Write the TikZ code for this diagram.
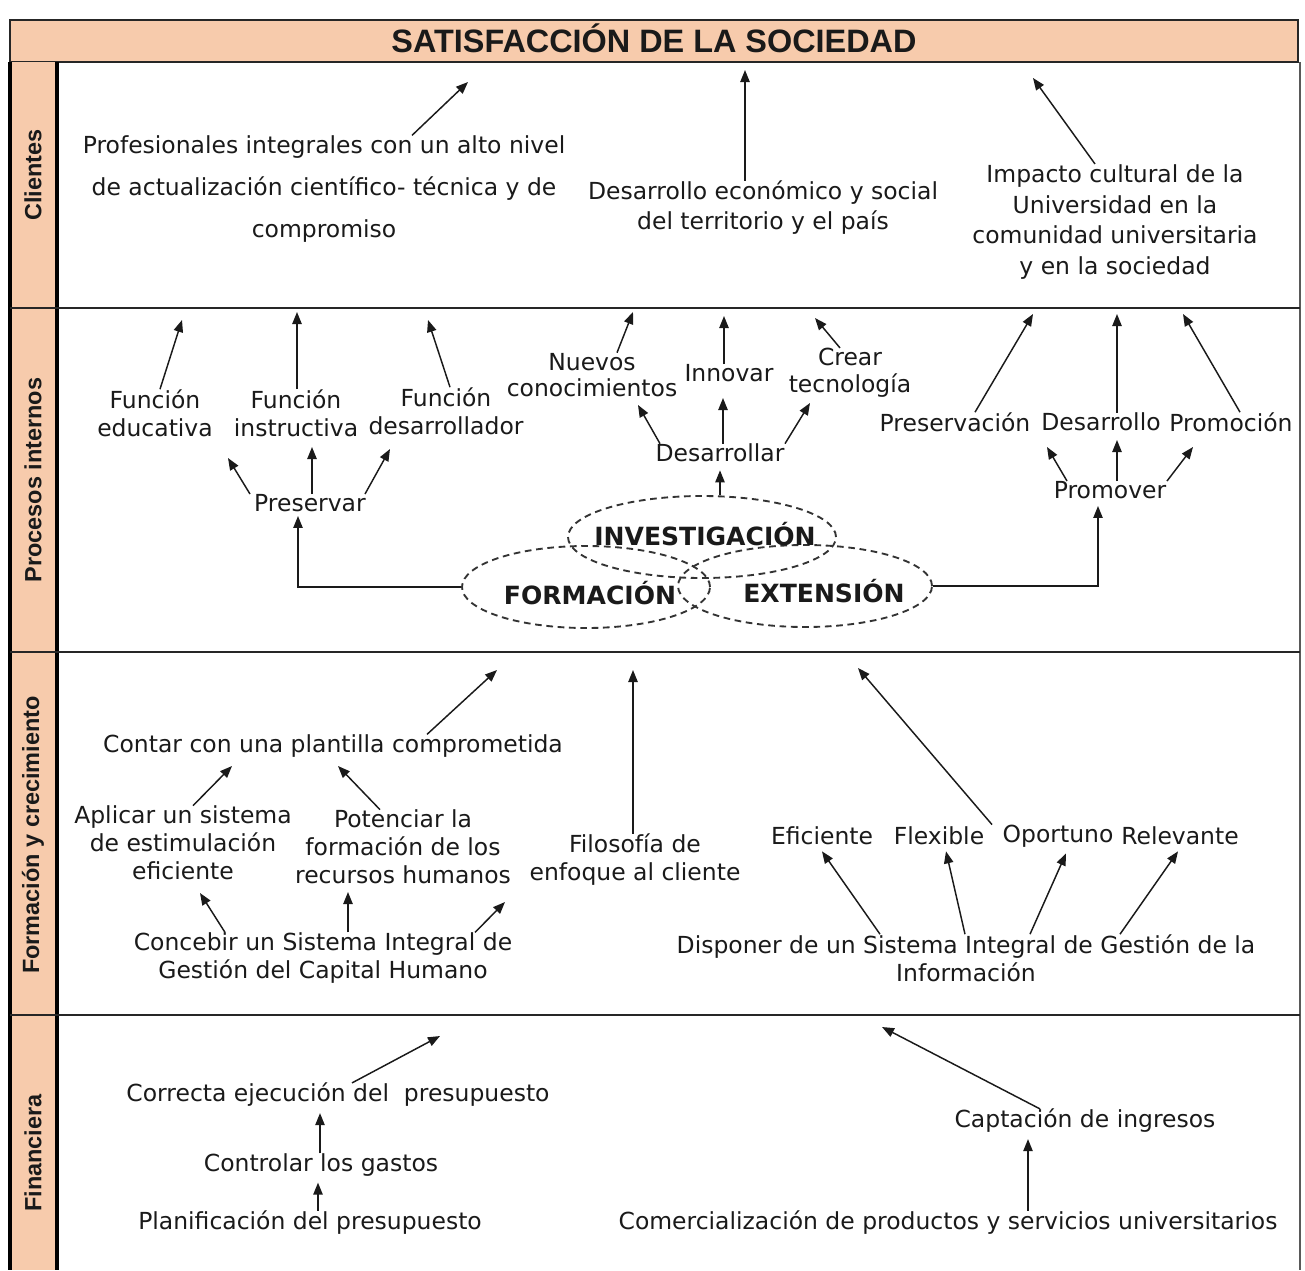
\documentclass[tikz,border=0pt]{standalone}
\usepackage{fontspec}
\setmainfont{DejaVu Sans}
\newfontfamily\headfont{Liberation Sans}
\usetikzlibrary{arrows.meta,calc,shapes.geometric}
\definecolor{peach}{HTML}{F7CBAC}
\definecolor{ink}{HTML}{1A1A1A}
\tikzset{
  tx/.style={font=\fontsize{17.6}{21}\selectfont, align=center, inner sep=0pt, text=ink},
  arr/.style={draw=ink, line width=1.1pt, -{Triangle[length=9pt,width=7pt]}},
  link/.style={draw=ink, line width=1.1pt, -{Triangle[length=9pt,width=7pt]}},
  area/.style={ellipse, draw=black!80, dashed, dash pattern=on 5pt off 3.5pt, line width=1.4pt,
    minimum height=61.5pt, inner sep=0pt},
  areatext/.style={inner sep=0pt, font=\bfseries\fontsize{18.8}{21}\selectfont, text=ink},
  band/.style={rotate=90, font=\headfont\bfseries\fontsize{17.6}{20}\selectfont, text=ink},
  sep/.style={draw=black!85, line width=2pt}
}
\begin{document}
\begin{tikzpicture}[x=0.75pt,y=-0.75pt]
\useasboundingbox (0,0) rectangle (1305,1270);
\fill[white] (0,0) rectangle (1305,1270);

% frame: title bar, side column and perspective bands
\draw[draw=black!85, line width=1.8pt, fill=peach] (10,20) rectangle (1298,62);
\node[font=\headfont\bfseries\fontsize{24.3}{27}\selectfont, text=ink] (title) at (654,38) {SATISFACCIÓN DE LA SOCIEDAD};
\draw[draw=black!65, line width=1.5pt] (1300,62) -- (1300,1270);
\fill[peach] (10,62) rectangle (57,1270);
\draw[black, line width=2.4pt] (10,62) -- (10,1270) (57,62) -- (57,1270);
\draw[sep] (10,308) -- (1300,308);
\draw[sep] (10,652) -- (1300,652);
\draw[sep] (10,1015) -- (1300,1015);

\node[band] (bcli) at (33,175) {Clientes};
\node[band] (bpro) at (33,480) {Procesos internos};
\node[band] (bfor) at (33,835) {Formación y crecimiento};
\node[band] (bfin) at (33,1153) {Financiera};

% Clientes
\node[tx, font=\fontsize{17.6}{31.5}\selectfont] (prof) at (324,189)
  {Profesionales integrales con un alto nivel\\de actualización científico- técnica y de\\compromiso};
\node[tx, font=\fontsize{17.6}{22.5}\selectfont] (desa) at (763,208)
  {Desarrollo económico y social\\del territorio y el país};
\node[tx, font=\fontsize{17.6}{23.2}\selectfont] (impa) at (1115,222)
  {Impacto cultural de la\\Universidad en la\\comunidad universitaria\\y en la sociedad};
\coordinate (cA) at (468,82);
\coordinate (cB) at (745,70);
\coordinate (cC) at (1033,78);
\draw[arr] ($(prof.north)+(88,0)$) -- (cA);
\draw[arr] ($(desa.north)+(-18,0)$) -- (cB);
\draw[arr] ($(impa.north)+(-20,0)$) -- (cC);

% Procesos internos
\node[tx] (feduc) at (155,413) {Función\\educativa};
\node[tx] (finst) at (296,413) {Función\\instructiva};
\node[tx] (fdes) at (446,411) {Función\\desarrollador};
\node[tx] (pres) at (310,503) {Preservar};
\coordinate (pA) at (182,320);
\coordinate (pB) at (297,312);
\coordinate (pC) at (428,320);
\draw[arr] ($(feduc.north)+(5,0)$) -- (pA);
\draw[arr] ($(finst.north)+(1,0)$) -- (pB);
\draw[arr] ($(fdes.north)+(4,0)$) -- (pC);
\draw[arr] ($(pres.north)+(-60,0)$) -- (228,458);
\draw[arr] ($(pres.north)+(2,0)$) -- (312,447);
\draw[arr] ($(pres.north)+(55,0)$) -- (390,449);

\node[tx, font=\fontsize{17.6}{20}\selectfont] (nuev) at (592,375) {Nuevos\\conocimientos};
\node[tx] (innov) at (729,373) {Innovar};
\node[tx, font=\fontsize{17.6}{20.5}\selectfont] (crear) at (850,373) {Crear\\tecnología};
\node[tx] (desar) at (720,453) {Desarrollar};
\draw[arr] ($(nuev.north)+(25,0)$) -- (633,312);
\draw[arr] ($(innov.north)+(-5,0)$) -- (724,316);
\draw[arr] ($(crear.north)+(-10,0)$) -- (815,318);
\draw[arr] ($(desar.north)+(-60,0)$) -- (638,405);
\draw[arr] ($(desar.north)+(3,0)$) -- (723,398);
\draw[arr] ($(desar.north)+(65,0)$) -- (810,403);

\node[tx] (presv) at (955,422) {Preservación};
\node[tx] (desa2) at (1101,422) {Desarrollo};
\node[tx] (promo) at (1231,422) {Promoción};
\node[tx] (promv) at (1110,490) {Promover};
\draw[arr] ($(presv.north)+(20,0)$) -- (1033,314);
\draw[arr] ($(desa2.north)+(16,0)$) -- (1117,314);
\draw[arr] ($(promo.north)+(9,0)$) -- (1183,314);
\draw[arr] ($(promv.north)+(-43,0)$) -- (1047,447);
\draw[arr] ($(promv.north)+(7,0)$) -- (1117,440);
\draw[arr] ($(promv.north)+(57,0)$) -- (1193,447);

% the three overlapping university processes
\node[area, minimum width=201pt] (inv) at (702,537) {};
\node[area, minimum width=186pt] (form) at (586,587) {};
\node[area, minimum width=190.5pt] (ext) at (805,586) {};
\node[areatext] (invt) at (705,534) {INVESTIGACIÓN};
\node[areatext] (formt) at (590,593) {FORMACIÓN};
\node[areatext] (extt) at (824,591) {EXTENSIÓN};
\draw[link] (form.west) -| ($(pres.south)+(-12,4)$);
\draw[link] (ext.east) -| ($(promv.south)+(-12,7)$);
\draw[link] (inv.north -| desar.south) -- ($(desar.south)+(0,8)$);

% Formación y crecimiento
\node[tx] (contar) at (333,746) {Contar con una plantilla comprometida};
\node[tx] (aplic) at (183,843) {Aplicar un sistema\\de estimulación\\eficiente};
\node[tx] (poten) at (403,847) {Potenciar la\\formación de los\\recursos humanos};
\node[tx] (filos) at (635,860) {Filosofía de\\enfoque al cliente};
\node[tx] (conceb) at (323,958) {Concebir un Sistema Integral de\\Gestión del Capital Humano};
\draw[arr] ($(contar.north)+(94,0)$) -- (497,670);
\draw[arr] ($(aplic.north)+(10,0)$) -- (232,766);
\draw[arr] ($(poten.north)+(-23,0)$) -- (338,766);
\draw[arr] ($(filos.north)+(-2,0)$) -- (633,670);
\draw[arr] ($(conceb.north)+(-98,0)$) -- (200,893);
\draw[arr] ($(conceb.north)+(25,0)$) -- (348,892);
\draw[arr] ($(conceb.north)+(152,0)$) -- (505,902);

\node[tx] (efic) at (822,836) {Eficiente};
\node[tx] (flex) at (939,836) {Flexible};
\node[tx] (oport) at (1058,836) {Oportuno};
\node[tx] (relev) at (1180,836) {Relevante};
\node[tx] (dispo) at (966,958) {Disponer de un Sistema Integral de Gestión de la\\Información};
\draw[arr] ($(oport.north)+(-66,0)$) -- (858,668);
\draw[arr] ($(dispo.north)+(-86,0)$) -- ($(efic.south)+(0,6)$);
\draw[arr] ($(dispo.north)+(-1,0)$) -- ($(flex.south)+(7,6)$);
\draw[arr] ($(dispo.north)+(64,0)$) -- ($(oport.south)+(8,6)$);
\draw[arr] ($(dispo.north)+(154,0)$) -- ($(relev.south)+(-2,6)$);

% Financiera
\node[tx] (correc) at (338,1095) {Correcta ejecución del\ \ presupuesto};
\node[tx] (contr) at (321,1165) {Controlar los gastos};
\node[tx] (planif) at (310,1223) {Planificación del presupuesto};
\node[tx] (capt) at (1085,1121) {Captación de ingresos};
\node[tx] (comerc) at (948,1223) {Comercialización de productos y servicios universitarios};
\draw[arr] ($(correc.north)+(14,0)$) -- (440,1036);
\draw[arr] ($(contr.north)+(-1,0)$) -- ($(correc.south)+(-18,6)$);
\draw[arr] ($(planif.north)+(8,0)$) -- ($(contr.south)+(-3,6)$);
\draw[arr] ($(capt.north)+(-45,0)$) -- (882,1027);
\draw[arr] ($(comerc.north)+(80,0)$) -- ($(capt.south)+(-57,6)$);
\end{tikzpicture}
\end{document}
